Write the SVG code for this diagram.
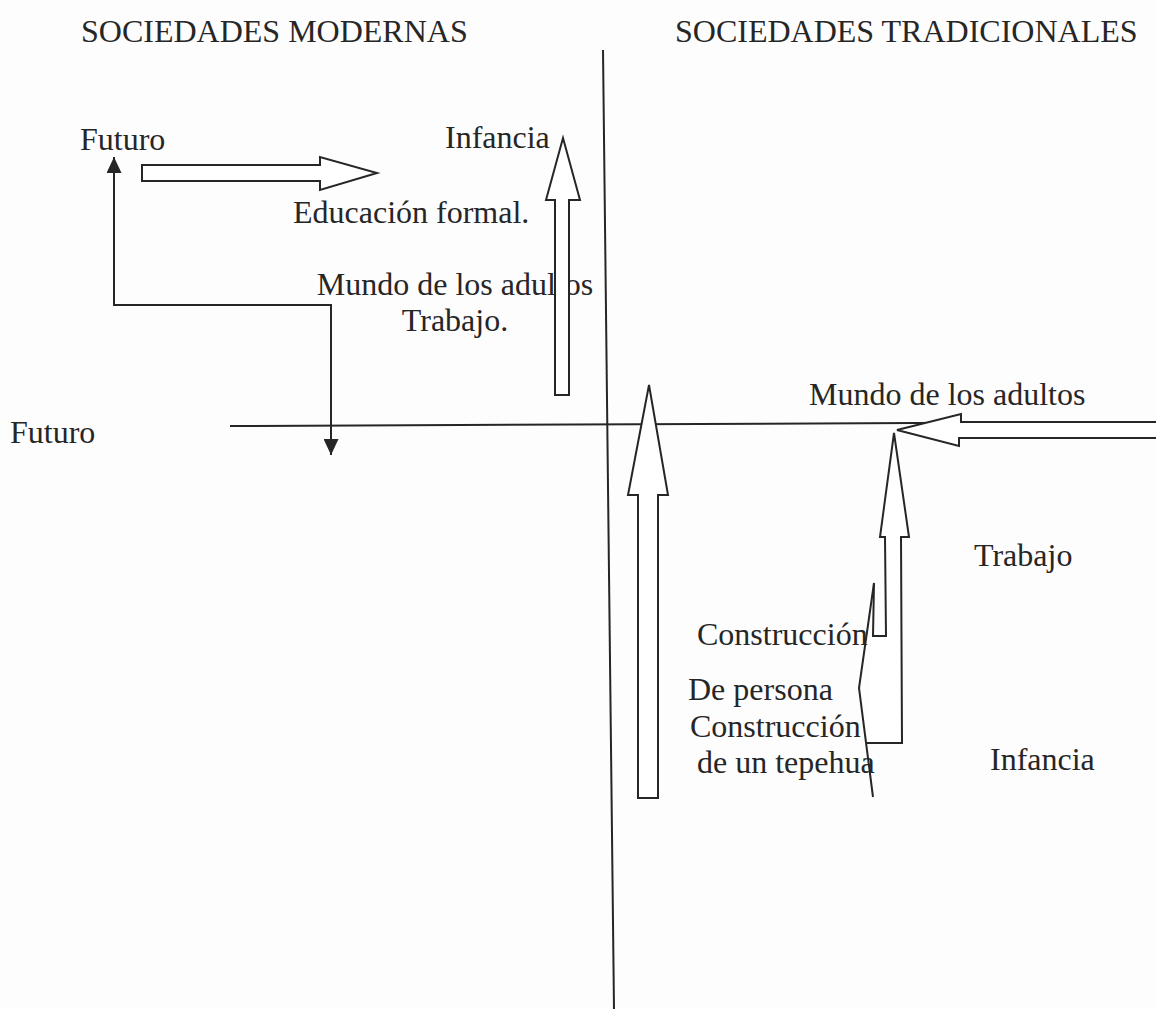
<svg xmlns="http://www.w3.org/2000/svg" width="1156" height="1009" viewBox="0 0 1156 1009">
<style>
  text { font-family: "Liberation Serif", "Times New Roman", serif; font-size: 32px; fill: #262626; }
  .ln { fill: none; stroke: #262626; stroke-width: 2; }
  .blk { fill: #fff; stroke: #262626; stroke-width: 2; stroke-linejoin: miter; }
</style>
<defs>
  <marker id="tri" viewBox="0 0 16 15" refX="16" refY="7.5" markerWidth="16" markerHeight="15" markerUnits="userSpaceOnUse" orient="auto-start-reverse">
    <path d="M0,0 L16,7.5 L0,15 z" fill="#262626"/>
  </marker>
</defs>
<rect width="1156" height="1009" fill="#fdfdfd"/>

<g id="headers">
  <text x="81" y="42">SOCIEDADES MODERNAS</text>
  <text x="675" y="42">SOCIEDADES TRADICIONALES</text>
</g>

<g id="axes">
  <line class="ln" x1="603" y1="50" x2="614" y2="1009"/>
  <line class="ln" x1="230" y1="426" x2="1156" y2="422"/>
</g>

<g id="labels-left">
  <text x="80" y="150">Futuro</text>
  <text x="445" y="148">Infancia</text>
  <text x="293" y="223">Educación formal.</text>
  <text x="455" y="295" text-anchor="middle">Mundo de los adultos</text>
  <text x="455" y="331" text-anchor="middle">Trabajo.</text>
  <text x="10" y="443">Futuro</text>
</g>

<g id="connectors">
  <path class="ln" d="M114,157 L114,305 L331,305 L331,455" marker-start="url(#tri)" marker-end="url(#tri)"/>
</g>

<g id="arrow-educacion">
  <polygon class="blk" points="142,165 320,165 320,157 377,173 320,190 320,181 142,181"/>
</g>

<g id="arrow-infancia">
  <polygon class="blk" points="563,138 580,200 569,200 569,395 555,395 555,200 546,200"/>
</g>

<g id="arrow-tall">
  <polygon class="blk" points="649,385 668,495 658,495 658,798 638,798 638,495 628,495"/>
</g>

<g id="arrow-mundo">
  <polygon class="blk" points="1158,422 961,422 961,414 897,430 959,446 959,438 1158,438"/>
</g>

<g id="arrow-construccion">
  <path class="blk" d="M874,583 L873,636 L886,636 L885,537 L880,537 L894,433 L909,537 L901,537 L902,743 L867,743"/>
  <polyline class="ln" points="874,583 859,688 873,797"/>
</g>

<g id="labels-right">
  <text x="809" y="405">Mundo de los adultos</text>
  <text x="974" y="566">Trabajo</text>
  <text x="697" y="645">Construcción</text>
  <text x="688" y="700">De persona</text>
  <text x="690" y="737">Construcción</text>
  <text x="697" y="773">de un tepehua</text>
  <text x="990" y="770">Infancia</text>
</g>
</svg>
